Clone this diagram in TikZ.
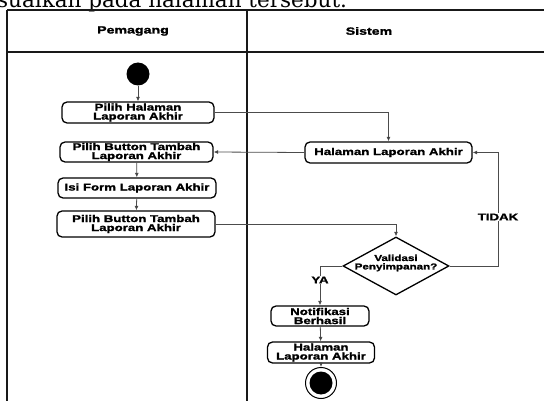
\documentclass[tikz,border=0pt]{standalone}
\usepackage{fontspec}
\newfontfamily\lblfont{Liberation Sans}[FakeStretch=1.35, BoldFeatures={FakeBold=1.6}]
\newfontfamily\bodyfont{DejaVu Serif}
\usetikzlibrary{shapes.geometric,arrows.meta}

\tikzset{
  act/.style={draw, line width=1.3pt, rounded corners=5pt, fill=white,
    align=center, inner sep=0pt,
    font=\lblfont\bfseries\fontsize{9.8}{9}\selectfont},
  decision/.style={draw, line width=1.3pt, diamond, fill=white, inner sep=0pt,
    minimum width=106pt, minimum height=58pt},
  dectext/.style={align=center, inner sep=0pt,
    font=\lblfont\bfseries\fontsize{8.6}{8.5}\selectfont},
  guard/.style={fill=white, inner sep=1pt,
    font=\lblfont\bfseries\fontsize{9.8}{9}\selectfont},
  head/.style={font=\lblfont\bfseries\fontsize{10.5}{10}\selectfont},
  flow/.style={draw=black!70, line width=0.8pt, -{Latex[length=4.5pt,width=4pt,fill=black]}},
  lane/.style={line width=2.4pt, black!90},
  startnode/.style={circle, fill=black, minimum size=23pt, inner sep=0pt},
  endnode/.style={circle, draw, line width=1pt, fill=white, minimum size=31pt, inner sep=0pt,
    path picture={\fill[black] (path picture bounding box.center) circle (11.5pt);}},
}

\begin{document}
\begin{tikzpicture}[x=1pt,y=-1pt]
\clip (0,0) rectangle (544,401);

% running text of the page above the diagram
\node[anchor=base west, inner sep=0pt, font=\bodyfont\fontsize{21.5}{21.5}\selectfont]
  (pagetext) at (-3,7.5) {suaikan pada halaman tersebut.};

% swimlane frame
\draw[lane] (7,10) -- (560,10);
\draw[lane] (7,52) -- (560,52);
\draw[lane] (7,10) -- (7,420);
\draw[lane] (247,10) -- (247,420);
\node[head] (laneA) at (133,31) {Pemagang};
\node[head] (laneB) at (369,31) {Sistem};

% activities
\node[startnode] (start) at (138,74) {};
\node[act, minimum width=152pt, minimum height=21pt] (b1) at (138,112.5) {Pilih Halaman\\Laporan Akhir};
\node[act, minimum width=153pt, minimum height=20pt] (b2) at (136.5,152) {Pilih Button Tambah\\Laporan Akhir};
\node[act, minimum width=158pt, minimum height=20pt] (b3) at (137,188) {Isi Form Laporan Akhir};
\node[act, minimum width=158pt, minimum height=26pt] (b4) at (136,224) {Pilih Button Tambah\\Laporan Akhir};
\node[act, minimum width=167pt, minimum height=21pt] (h1) at (388.5,152.5) {Halaman Laporan Akhir};
\node[decision] (dec) at (396,266) {};
\node[dectext] (decq) at (396,263) {Validasi\\Penyimpanan?};
\node[act, minimum width=98pt, minimum height=20pt] (n1) at (320,316) {Notifikasi\\Berhasil};
\node[act, minimum width=107pt, minimum height=21pt] (h2) at (321,352.5) {Halaman\\Laporan Akhir};
\node[endnode] (stop) at (321,383) {};

% flows
\draw[flow] (start) -- (b1);
\draw[flow] (b1.east) -| (h1.north);
\draw[flow] (h1.west) -- (b2.east);
\draw[flow] (b2) -- (b3);
\draw[flow] (b3) -- (b4);
\draw[flow] (b4.east) -| (dec.north);
\coordinate (loop) at (498,266);
\draw[flow] (dec.east) -- (loop) |- (h1.east);
\draw[flow] (dec.west) -| (n1.north);
\draw[flow] (n1) -- (h2);
\draw[flow] (h2) -- (stop);

% guards
\node[guard] (gNo) at (498,217) {TIDAK};
\node[guard] (gYes) at (320,280) {YA};
\end{tikzpicture}
\end{document}
